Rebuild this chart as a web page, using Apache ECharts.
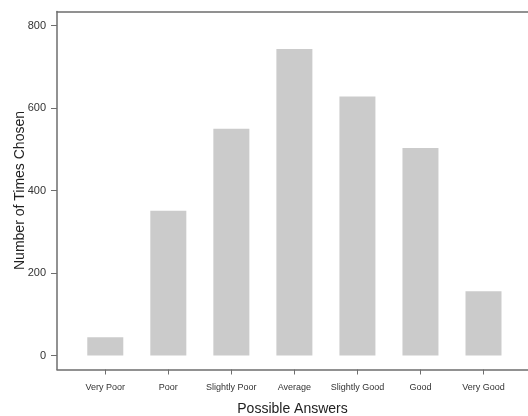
<!DOCTYPE html>
<html>
<head>
<meta charset="utf-8">
<script src="https://cdn.jsdelivr.net/npm/echarts@6/dist/echarts.min.js"></script>
<style>
  html, body { margin: 0; padding: 0; background: #ffffff; }
  #chart { width: 528px; height: 416px; }
</style>
</head>
<body>
<div id="chart"></div>
<script>
// Response categories and how often each one was chosen
const categories = ['Very Poor', 'Poor', 'Slightly Poor', 'Average', 'Slightly Good', 'Good', 'Very Good'];
const counts = [44, 351, 550, 743, 628, 503, 156];
const yTicks = [0, 200, 400, 600, 800];

const positions = categories.map((_, i) => i);
const barData = positions.map((p, i) => [p, counts[i]]);

const FONT = '"Liberation Sans", Arial, Helvetica, sans-serif';
const AXIS_COLOR = '#6e6e6e';

const chart = echarts.init(document.getElementById('chart'), null, { renderer: 'canvas' });

chart.setOption({
  animation: false,
  backgroundColor: '#ffffff',
  grid: {
    left: 57, right: 0, top: 11.5, bottom: 46.5,
    containLabel: false,
    outerBoundsMode: 'none'
  },
  xAxis: [
    {
      type: 'value',
      position: 'bottom',
      min: -0.766,
      max: 6.706,
      name: 'Possible Answers',
      nameLocation: 'middle',
      nameGap: 33,
      nameMoveOverlap: false,
      nameTextStyle: { fontFamily: FONT, fontSize: 14, color: '#222222' },
      axisLine: { show: true, onZero: false, lineStyle: { color: AXIS_COLOR, width: 1.5 } },
      axisTick: {
        show: true,
        customValues: positions,
        length: 5,
        lineStyle: { color: AXIS_COLOR, width: 1 }
      },
      axisLabel: {
        show: true,
        customValues: positions,
        margin: 14,
        fontFamily: FONT,
        fontSize: 9,
        color: '#333333',
        formatter: v => categories[Math.round(v)] || ''
      },
      splitLine: { show: false }
    },
    {
      // top edge of the plotting frame
      type: 'value',
      position: 'top',
      min: -0.766,
      max: 6.706,
      axisLine: { show: true, onZero: false, lineStyle: { color: AXIS_COLOR, width: 1.5 } },
      axisTick: { show: false },
      axisLabel: { show: false },
      splitLine: { show: false }
    }
  ],
  yAxis: {
    type: 'value',
    min: -34,
    max: 834,
    name: 'Number of Times Chosen',
    nameLocation: 'middle',
    nameGap: 30,
    nameMoveOverlap: false,
    nameTextStyle: { fontFamily: FONT, fontSize: 14, color: '#222222' },
    axisLine: { show: true, onZero: false, lineStyle: { color: AXIS_COLOR, width: 1.5 } },
    axisTick: {
      show: true,
      customValues: yTicks,
      length: 6,
      lineStyle: { color: AXIS_COLOR, width: 1 }
    },
    axisLabel: {
      show: true,
      customValues: yTicks,
      margin: 11,
      fontFamily: FONT,
      fontSize: 11,
      color: '#333333'
    },
    splitLine: { show: false }
  },
  series: [
    {
      type: 'bar',
      xAxisIndex: 0,
      data: barData,
      barWidth: 36,
      itemStyle: { color: '#cbcbcb' }
    }
  ]
});
</script>
</body>
</html>
